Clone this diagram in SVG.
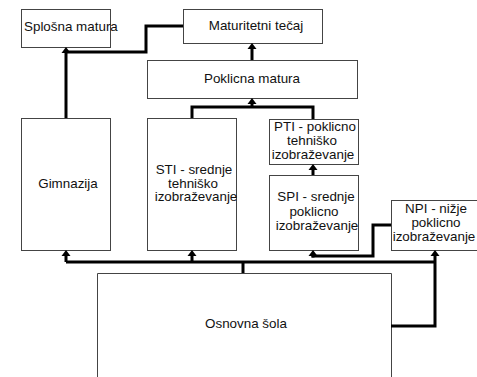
<svg xmlns="http://www.w3.org/2000/svg" width="477" height="377" viewBox="0 0 477 377">
<style>
.box{fill:#fff;stroke:#444;stroke-width:1}
.t{font-family:"Liberation Sans",Arial,sans-serif;font-size:13.4px;fill:#111;text-anchor:middle}
.c{fill:none;stroke:#000;stroke-width:3}
.a{fill:none;stroke:#000;stroke-width:3;marker-end:url(#ah)}
</style>
<defs>
<marker id="ah" markerUnits="userSpaceOnUse" viewBox="0 -5 6 10" refX="2" refY="0" markerWidth="6" markerHeight="10" orient="auto">
<path d="M0,-4.5 L6,0 L0,4.5 z" fill="#000"/>
</marker>
</defs>
<rect width="477" height="377" fill="#fff"/>
<g id="osnovna">
<path class="box" d="M97.5,377 V273.5 H391.5 V377"/>
<text class="t" x="246" y="328">Osnovna šola</text>
</g>
<g id="splosna">
<rect class="box" x="21.5" y="9.5" width="89" height="38"/>
<text class="t" x="24" y="31" style="text-anchor:start">Splošna matura</text>
</g>
<g id="maturitetni">
<rect class="box" x="183.5" y="9.5" width="139" height="34"/>
<text class="t" x="256" y="30">Maturitetni tečaj</text>
</g>
<g id="poklicna">
<rect class="box" x="147.5" y="60.5" width="210" height="38"/>
<text class="t" x="252" y="83">Poklicna matura</text>
</g>
<g id="gimnazija">
<rect class="box" x="21.5" y="118.5" width="89" height="132"/>
<text class="t" x="68" y="188">Gimnazija</text>
</g>
<g id="sti">
<rect class="box" x="147.5" y="118.5" width="89" height="132"/>
<text class="t" x="194" y="174">STI - srednje</text>
<text class="t" x="193" y="187.5">tehniško</text>
<text class="t" x="196" y="201">izobraževanje</text>
</g>
<g id="pti">
<rect class="box" x="269.5" y="119.5" width="89" height="45"/>
<text class="t" x="315" y="131">PTI - poklicno</text>
<text class="t" x="312" y="145">tehniško</text>
<text class="t" x="313" y="159">izobraževanje</text>
</g>
<g id="spi">
<rect class="box" x="269.5" y="175.5" width="89" height="75"/>
<text class="t" x="316" y="201">SPI - srednje</text>
<text class="t" x="314" y="215.5">poklicno</text>
<text class="t" x="317" y="230">izobraževanje</text>
</g>
<g id="npi">
<rect class="box" x="391.5" y="200.5" width="90" height="50"/>
<text class="t" x="436" y="213">NPI - nižje</text>
<text class="t" x="436" y="227">poklicno</text>
<text class="t" x="434" y="241">izobraževanje</text>
</g>
<g id="connectors">
<path class="a" d="M66,118 V51"/>
<path class="c" d="M183,26 H146 V52 H66"/>
<path class="a" d="M252,60 V47"/>
<path class="c" d="M192,118 V107 H313 V119"/>
<path class="a" d="M252,107 V102"/>
<path class="a" d="M313,175 V168"/>
<path class="c" d="M66,262 H435"/>
<path class="c" d="M243,273 V262"/>
<path class="a" d="M66,262 V254"/>
<path class="a" d="M192,262 V254"/>
<path class="c" d="M391,225 H373 V256 H311.5"/>
<path class="a" d="M313,257.5 V254"/>
<path class="a" d="M391,326 H435 V254"/>
</g>
</svg>
